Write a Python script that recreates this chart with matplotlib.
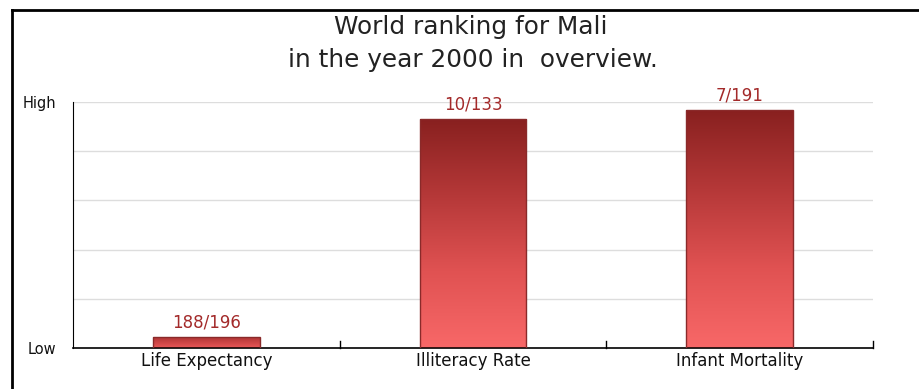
import numpy as np
import matplotlib
matplotlib.use("Agg")
import matplotlib.pyplot as plt
from matplotlib.colors import LinearSegmentedColormap
from matplotlib.patches import Rectangle
from matplotlib.lines import Line2D

# Rankings: position in the world and number of countries ranked
categories = ["Life Expectancy", "Illiteracy Rate", "Infant Mortality"]
ranks = [188, 10, 7]
totals = [196, 133, 191]
title_lines = ["World ranking for Mali", "in the year 2000 in  overview."]

# Higher bar = higher rank position on the world scale
scores = [(t - r + 1) / t for r, t in zip(ranks, totals)]

fig = plt.figure(figsize=(9.2, 3.89), dpi=100)
W, H = 920, 389

# Outer frame (top and left edges)
fig.add_artist(Line2D([11.5 / W, 11.5 / W], [0, 1 - 9.5 / H], transform=fig.transFigure,
                      color="black", lw=2))
fig.add_artist(Line2D([11.5 / W, 1], [1 - 9.5 / H, 1 - 9.5 / H], transform=fig.transFigure,
                      color="black", lw=2))

fig.text(471 / W, 1 - 27 / H, title_lines[0], ha="center", va="center",
         fontsize=17.8, family="DejaVu Sans", color="#222222")
fig.text(473 / W, 1 - 60 / H, title_lines[1], ha="center", va="center",
         fontsize=17.8, family="DejaVu Sans", color="#222222")

ax = fig.add_axes([73 / W, (H - 348) / H, 800 / W, 246 / H])
n = len(categories)
ax.set_xlim(0, n)
ax.set_ylim(0, 1)

for y in np.linspace(0.2, 1.0, 5):
    ax.axhline(y, color="#dddddd", lw=1, zorder=0)

cmap = LinearSegmentedColormap.from_list("bar", ["#f86868", "#e05252", "#b53838", "#88201f"])
grad = np.linspace(0, 1, 256).reshape(-1, 1)
bw = 0.4
for i, (s, r, t) in enumerate(zip(scores, ranks, totals)):
    x0 = i + 0.5 - bw / 2
    if s > 0.2:
        g = grad
    else:
        g = np.linspace(0.25, 0.75, 256).reshape(-1, 1)
    im = ax.imshow(g, cmap=cmap, vmin=0, vmax=1, origin="lower", aspect="auto",
                   extent=[x0, x0 + bw, 0, s], zorder=2, interpolation="bilinear")
    rect = Rectangle((x0, 0), bw, s, facecolor="none", edgecolor="#8a2a2a", lw=1, zorder=3)
    ax.add_patch(rect)
    im.set_clip_path(rect)
    ax.annotate(f"{r}/{t}", (i + 0.5, s), xytext=(0, 4), textcoords="offset points",
                ha="center", va="bottom", fontsize=12, color="#a32a2a")

ax.set_xticks([i + 0.5 for i in range(n)])
ax.set_xticklabels(categories, fontsize=12, color="#111111")
ax.tick_params(axis="x", length=0, pad=3)

# Separator ticks at category boundaries
for b in range(1, n + 1):
    ax.plot([b, b], [0, 7 / 246], color="black", lw=1, clip_on=False, zorder=4)

ax.set_yticks([0, 1])
ax.set_yticklabels(["Low", "High"], fontsize=10.5, color="#111111")
ax.tick_params(axis="y", length=0, pad=12)

for side in ["top", "right"]:
    ax.spines[side].set_visible(False)
ax.spines["left"].set_color("black")
ax.spines["bottom"].set_color("black")
ax.spines["bottom"].set_linewidth(1.2)

fig.savefig("out.png", dpi=100)
